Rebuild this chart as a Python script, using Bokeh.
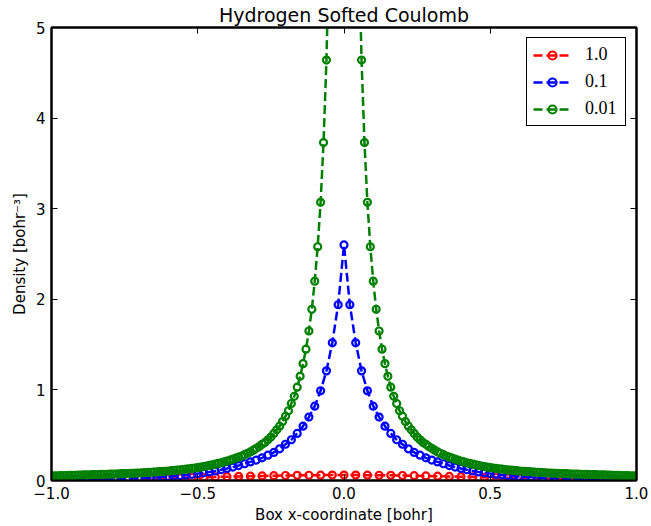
import numpy as np
from bokeh.plotting import figure
from bokeh.models import Range1d, FixedTicker, LinearAxis, Legend, LegendItem, ColumnDataSource
from bokeh.embed import file_html
from bokeh.resources import INLINE

# ---------------- data ----------------
labels = ["1.0", "0.1", "0.01"]
colors = ["#ff0000", "#0000ff", "#008000"]

x_red = np.round(np.linspace(-1.0, 1.0, 51), 3)
y_red = [0.010, 0.010, 0.011, 0.012, 0.013, 0.015, 0.017, 0.019, 0.021, 0.024, 0.027, 0.030, 0.033,
         0.036, 0.039, 0.042, 0.045, 0.048, 0.050, 0.053, 0.055, 0.057, 0.058, 0.059, 0.060,
         0.060,
         0.060, 0.059, 0.058, 0.057, 0.055, 0.053, 0.050, 0.048, 0.045, 0.042, 0.039, 0.036,
         0.033, 0.030, 0.027, 0.024, 0.021, 0.019, 0.017, 0.015, 0.013, 0.012, 0.011, 0.010, 0.010]

x_blue = np.round(np.linspace(-1.0, 1.0, 101), 3)
y_blue = [0.010, 0.010, 0.011, 0.011, 0.012, 0.012, 0.013, 0.014, 0.015, 0.016,
          0.017, 0.018, 0.020, 0.022, 0.024, 0.026, 0.029, 0.032, 0.036, 0.040,
          0.044, 0.049, 0.055, 0.061, 0.068, 0.076, 0.085, 0.095, 0.106, 0.119,
          0.133, 0.148, 0.165, 0.185, 0.205, 0.225, 0.250, 0.280, 0.310, 0.350,
          0.400, 0.450, 0.520, 0.600, 0.700, 0.820, 0.990, 1.210, 1.520, 1.940,
          2.600,
          1.940, 1.520, 1.210, 0.990, 0.820, 0.700, 0.600, 0.520, 0.450, 0.400,
          0.350, 0.310, 0.280, 0.250, 0.225, 0.205, 0.185, 0.165, 0.148, 0.133,
          0.119, 0.106, 0.095, 0.085, 0.076, 0.068, 0.061, 0.055, 0.049, 0.044,
          0.040, 0.036, 0.032, 0.029, 0.026, 0.024, 0.022, 0.020, 0.018, 0.017,
          0.016, 0.015, 0.014, 0.013, 0.012, 0.012, 0.011, 0.011, 0.010, 0.010]

x_green = np.round(np.linspace(-1.0, 1.0, 201), 3)
y_green = [0.050, 0.051, 0.052, 0.053, 0.054, 0.055, 0.056, 0.057, 0.058, 0.059,
           0.060, 0.061, 0.062, 0.063, 0.064, 0.065, 0.066, 0.067, 0.068, 0.069,
           0.070, 0.071, 0.072, 0.073, 0.075, 0.076, 0.077, 0.079, 0.080, 0.082,
           0.083, 0.085, 0.087, 0.089, 0.091, 0.093, 0.095, 0.097, 0.100, 0.102,
           0.105, 0.108, 0.111, 0.114, 0.117, 0.121, 0.125, 0.129, 0.133, 0.138,
           0.143, 0.148, 0.154, 0.160, 0.166, 0.173, 0.180, 0.188, 0.196, 0.205,
           0.214, 0.224, 0.235, 0.246, 0.258, 0.270, 0.285, 0.300, 0.315, 0.335,
           0.355, 0.375, 0.400, 0.420, 0.450, 0.480, 0.520, 0.560, 0.600, 0.650,
           0.710, 0.770, 0.850, 0.930, 1.030, 1.150, 1.290, 1.450, 1.650, 1.890,
           2.200, 2.580, 3.070, 3.730, 4.640, 6.000, 8.000, 11.50, 18.00, 30.00,
           38.00,
           30.00, 18.00, 11.50, 8.000, 6.000, 4.640, 3.730, 3.070, 2.580, 2.200,
           1.890, 1.650, 1.450, 1.290, 1.150, 1.030, 0.930, 0.850, 0.770, 0.710,
           0.650, 0.600, 0.560, 0.520, 0.480, 0.450, 0.420, 0.400, 0.375, 0.355,
           0.335, 0.315, 0.300, 0.285, 0.270, 0.258, 0.246, 0.235, 0.224, 0.214,
           0.205, 0.196, 0.188, 0.180, 0.173, 0.166, 0.160, 0.154, 0.148, 0.143,
           0.138, 0.133, 0.129, 0.125, 0.121, 0.117, 0.114, 0.111, 0.108, 0.105,
           0.102, 0.100, 0.097, 0.095, 0.093, 0.091, 0.089, 0.087, 0.085, 0.083,
           0.082, 0.080, 0.079, 0.077, 0.076, 0.075, 0.073, 0.072, 0.071, 0.070,
           0.069, 0.068, 0.067, 0.066, 0.065, 0.064, 0.063, 0.062, 0.061, 0.060,
           0.059, 0.058, 0.057, 0.056, 0.055, 0.054, 0.053, 0.052, 0.051, 0.050]

x_ticks = [-1.0, -0.5, 0.0, 0.5, 1.0]
x_tick_labels = ["\u22121.0", "\u22120.5", "0.0", "0.5", "1.0"]
y_ticks = [0, 1, 2, 3, 4, 5]
y_tick_labels = ["0", "1", "2", "3", "4", "5"]

title = "Hydrogen Softed Coulomb"
x_label = "Box x-coordinate [bohr]"
y_label = "Density [bohr\u207b\u00b3]"

# ---------------- figure ----------------
FONT = "DejaVu Sans"
p = figure(width=651, height=526, x_range=Range1d(-1.0, 1.0), y_range=Range1d(0, 5),
           output_backend="svg", toolbar_location=None,
           min_border_left=51, min_border_right=15, min_border_top=27, min_border_bottom=45)
p.background_fill_color = "white"
p.border_fill_color = "white"
p.xgrid.visible = False
p.ygrid.visible = False
p.outline_line_color = "black"
p.outline_line_width = 2

p.title.text = title
p.title.align = "center"
p.title.text_font = FONT
p.title.text_font_size = "19px"
p.title.text_font_style = "normal"
p.title.text_color = "black"
p.title.standoff = 3
p.title.offset = 0

def style_axis(ax, ticks, labels_, show_labels=True):
    ax.ticker = FixedTicker(ticks=ticks)
    ax.major_label_overrides = {t: l for t, l in zip(ticks, labels_)}
    ax.axis_line_color = "black"
    ax.axis_line_width = 2
    ax.major_tick_in = 6
    ax.major_tick_out = 0
    ax.major_tick_line_width = 1
    ax.major_tick_line_color = "black"
    ax.minor_tick_line_color = None
    ax.major_label_text_font = FONT
    ax.major_label_text_color = "black"
    if show_labels:
        ax.major_label_text_font_size = "15px"
        ax.major_label_standoff = 6
    else:
        ax.major_label_text_font_size = "0px"
        ax.major_label_standoff = 0

xa = p.xaxis[0]
style_axis(xa, x_ticks, x_tick_labels)
xa.axis_label = x_label
ya = p.yaxis[0]
style_axis(ya, y_ticks, y_tick_labels)
ya.axis_label = y_label
for ax in (xa, ya):
    ax.axis_label_text_font = FONT
    ax.axis_label_text_font_size = "15px"
    ax.axis_label_text_font_style = "normal"
    ax.axis_label_text_color = "black"
    ax.axis_label_standoff = 4

top_ax = LinearAxis()
style_axis(top_ax, x_ticks, ["" for _ in x_ticks], show_labels=False)
p.add_layout(top_ax, "above")
right_ax = LinearAxis()
style_axis(right_ax, y_ticks, ["" for _ in y_ticks], show_labels=False)
p.add_layout(right_ax, "right")

items = []
for lab, col, xs, ys in zip(labels, colors, [x_red, x_blue, x_green], [y_red, y_blue, y_green]):
    src = ColumnDataSource(dict(x=list(xs), y=list(ys)))
    lr = p.line("x", "y", source=src, line_color=col, line_width=2.5, line_dash="9 4")
    sr = p.scatter("x", "y", source=src, marker="circle", size=7, fill_color=None,
                   line_color=col, line_width=2.2)
    items.append(LegendItem(label=lab, renderers=[lr, sr]))

legend = Legend(items=items, location="top_right")
legend.margin = 10
legend.padding = 6
legend.spacing = 6
legend.glyph_width = 38
legend.glyph_height = 20
legend.label_height = 20
legend.label_width = 34
legend.label_standoff = 14
legend.label_text_font = "Liberation Serif"
legend.label_text_font_size = "18px"
legend.label_text_color = "black"
legend.border_line_color = "black"
legend.border_line_width = 1
legend.border_line_alpha = 1
legend.background_fill_color = "white"
legend.background_fill_alpha = 1
p.add_layout(legend, "center")

open("out.html", "w").write(file_html(p, INLINE))
